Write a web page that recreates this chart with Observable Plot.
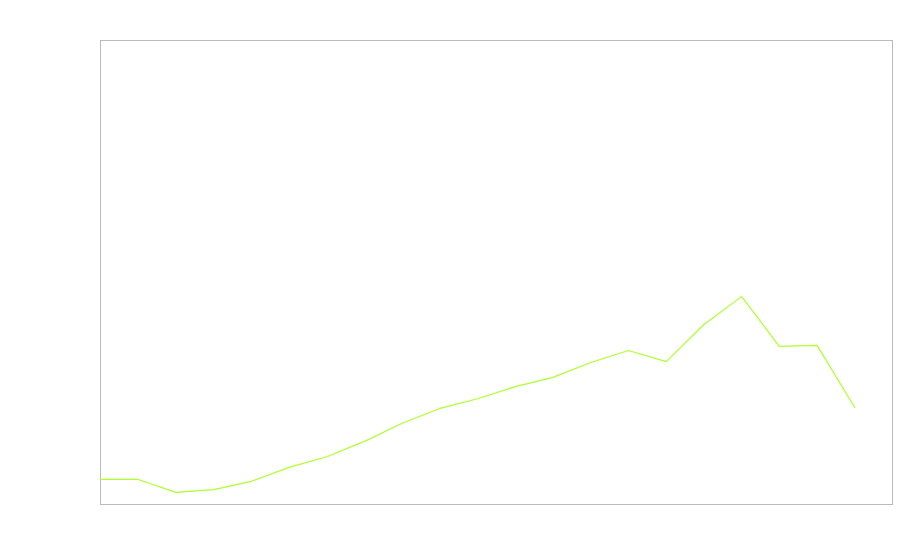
<!DOCTYPE html>
<html>
<head>
<meta charset="utf-8">
<script src="https://cdn.jsdelivr.net/npm/d3@7"></script>
<script src="https://cdn.jsdelivr.net/npm/@observablehq/plot@0.6"></script>
<style>
  html, body { margin: 0; padding: 0; background: #fff; }
  #chart svg { display: block; }
</style>
</head>
<body>
<div id="chart"></div>
<script>
const indices = [0,1,2,3,4,5,6,7,8,9,10,11,12,13,14,15,16,17,18,19,20];
const values = [5.4,5.4,2.6,3.2,5.0,8.0,10.3,13.6,17.5,20.7,22.8,25.4,27.4,30.6,33.2,30.8,38.8,44.8,34.1,34.3,20.9];

const data = indices.map((x, i) => ({x, y: values[i]}));

const chart = Plot.plot({
  width: 900,
  height: 560,
  marginLeft: 100,
  marginRight: 8,
  marginTop: 40,
  marginBottom: 56,
  x: {domain: [0, 21], axis: null},
  y: {domain: [0, 100], axis: null},
  style: {background: "#fff"},
  marks: [
    Plot.frame({stroke: "#bbb"}),
    Plot.line(data, {x: "x", y: "y", stroke: "#adff2f", strokeWidth: 1.2})
  ]
});
document.getElementById("chart").append(chart);
</script>
</body>
</html>
